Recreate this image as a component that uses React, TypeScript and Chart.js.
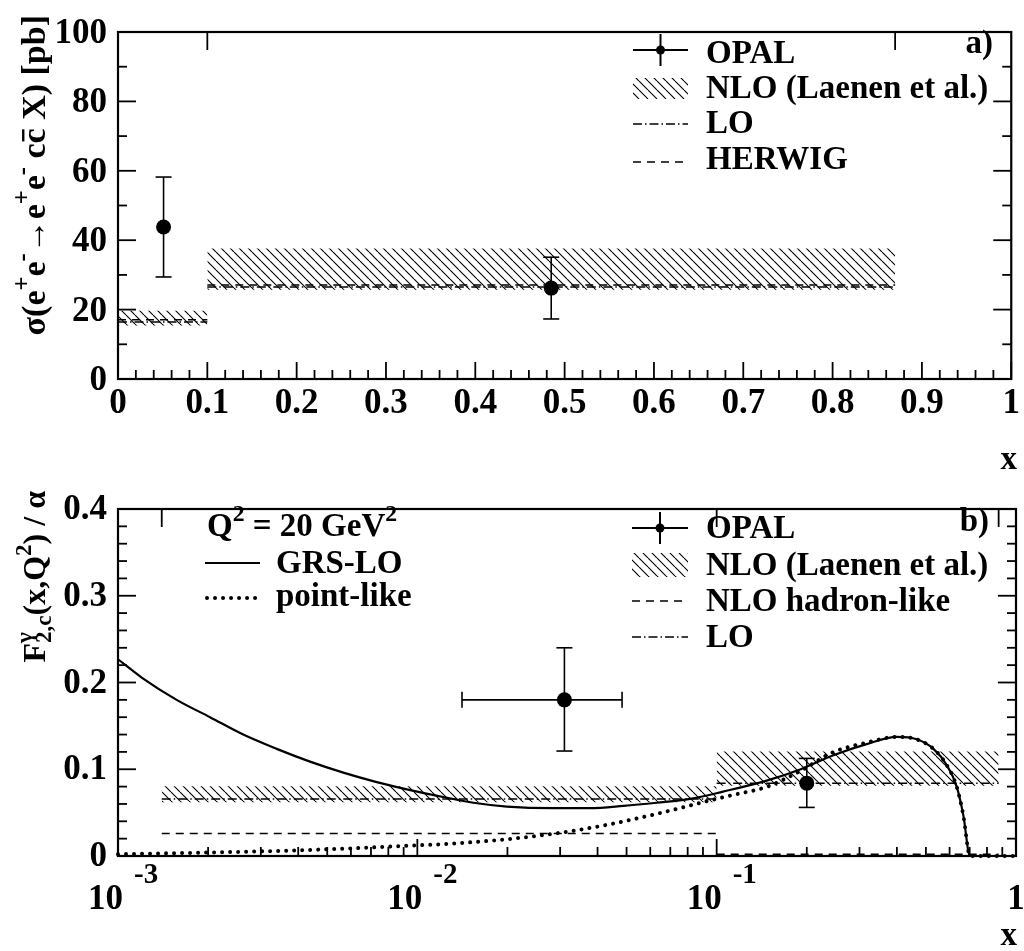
import React, { useEffect, useRef } from 'react';
import { Chart, registerables } from 'chart.js';

Chart.register(...registerables);

const FONT = "'Liberation Serif', 'Times New Roman', Times, serif";
const TICK_SIZE = 35;
const TEXT_SIZE = 33;

// ---------------- Panel a) : cross-section vs x ----------------
const A_BIN_LOW = [0.0, 0.1];
const A_BIN_HIGH = [0.1, 0.87];
const A_NLO_MIN = [15.4, 25.7];
const A_NLO_MAX = [19.7, 37.6];
const A_LO = [16.4, 26.5];
const A_HERWIG = [17.1, 27.1];
const A_OPAL_X = [0.051, 0.485];
const A_OPAL_Y = [43.8, 26.2];
const A_OPAL_YLOW = [29.4, 17.3];
const A_OPAL_YHIGH = [58.2, 35.1];
const A_X_TICKS = [0, 0.1, 0.2, 0.3, 0.4, 0.5, 0.6, 0.7, 0.8, 0.9, 1];
const A_X_LABELS = ['0', '0.1', '0.2', '0.3', '0.4', '0.5', '0.6', '0.7', '0.8', '0.9', '1'];
const A_Y_TICKS = [0, 20, 40, 60, 80, 100];
const A_Y_LABELS = ['0', '20', '40', '60', '80', '100'];
const A_Y_MINOR = [10, 30, 50, 70, 90];
const A_TOP_EDGES = [0.1, 0.87];

// ---------------- Panel b) : F2,c / alpha vs x (log) ----------------
const B_BIN_LOW = [0.0014, 0.1];
const B_BIN_HIGH = [0.1, 0.875];
const B_NLO_MIN = [0.062, 0.081];
const B_NLO_MAX = [0.0803, 0.1205];
const B_LO = [0.0658, 0.084];
const B_HADRON = [0.026, 0.002];
const B_OPAL_X = [0.031, 0.2];
const B_OPAL_Y = [0.18, 0.084];
const B_OPAL_YLOW = [0.121, 0.056];
const B_OPAL_YHIGH = [0.24, 0.1125];
const B_OPAL_XLOW = [0.0141, null];
const B_OPAL_XHIGH = [0.0483, null];
const B_GRS_X = [0.001, 0.0012, 0.00157, 0.00203, 0.00262, 0.00339, 0.00438, 0.00566, 0.00732, 0.00946,
  0.0122, 0.0154, 0.0199, 0.0285, 0.0377, 0.0488, 0.0631, 0.0815, 0.105, 0.147, 0.19, 0.2455, 0.317,
  0.4, 0.466, 0.53, 0.586, 0.634, 0.667, 0.702, 1.0];
const B_GRS_Y = [0.2268, 0.2057, 0.18, 0.16, 0.14, 0.1235, 0.1088, 0.0961, 0.0852, 0.076,
  0.068, 0.0614, 0.057, 0.0551, 0.0551, 0.0577, 0.0614, 0.0658, 0.0742, 0.0869, 0.0997, 0.1162, 0.129,
  0.1373, 0.1345, 0.1235, 0.1052, 0.0797, 0.0468, 0.0, 0.0];
const B_PL_X = [0.001, 0.002, 0.00339, 0.006, 0.00946, 0.0122, 0.0199, 0.0299, 0.0428, 0.0631, 0.0928,
  0.1137, 0.147, 0.19, 0.2455, 0.317, 0.4, 0.466, 0.53, 0.586, 0.634, 0.667, 0.702, 1.0];
const B_PL_Y = [0.002, 0.004, 0.0058, 0.0088, 0.012, 0.0137, 0.0193, 0.0267, 0.0358, 0.0486, 0.0632,
  0.0705, 0.0797, 0.0979, 0.1198, 0.1307, 0.1373, 0.1345, 0.1235, 0.1052, 0.0797, 0.0468, 0.0, 0.0];
const B_X_DECADES = [0.001, 0.01, 0.1];
const B_X_EXPONENTS = ['-3', '-2', '-1'];
const B_X_LAST = [1];
const B_X_LAST_LABEL = ['1'];
const B_Y_TICKS = [0, 0.1, 0.2, 0.3, 0.4];
const B_Y_LABELS = ['0', '0.1', '0.2', '0.3', '0.4'];
const B_TOP_EDGES = [0.0014, 0.1, 0.875];

// ---------------- helpers ----------------
type Pt = { x: number; y: number | null };
const pairs = (xs: number[], ys: number[]): Pt[] => xs.map((x, i) => ({ x, y: ys[i] }));
const binPts = (lo: number[], hi: number[], v: number[], i: number): Pt[] => [
  { x: lo[i], y: v[i] },
  { x: hi[i], y: v[i] },
];
const steps = (lo: number[], hi: number[], v: number[]): Pt[] => {
  const out: Pt[] = [];
  lo.forEach((l, i) => {
    if (i > 0) out.push({ x: l, y: null });
    out.push({ x: l, y: v[i] }, { x: hi[i], y: v[i] });
  });
  return out;
};

const f = (size: number) => `bold ${size}px ${FONT}`;

function makeHatch(): any {
  const s = 9;
  const c = document.createElement('canvas');
  c.width = s;
  c.height = s;
  const g = c.getContext('2d');
  if (!g) return 'rgba(0,0,0,0.3)';
  g.strokeStyle = '#000';
  g.lineWidth = 1.1;
  g.beginPath();
  for (let k = -1; k <= 1; k++) {
    g.moveTo(k * s, 0);
    g.lineTo(k * s + s, s);
  }
  g.stroke();
  return g.createPattern(c, 'repeat');
}

function seg(ctx: CanvasRenderingContext2D, x1: number, y1: number, x2: number, y2: number) {
  ctx.beginPath();
  ctx.moveTo(x1, y1);
  ctx.lineTo(x2, y2);
  ctx.stroke();
}

type Seg = { t?: string; sup?: boolean; sub?: boolean; bar?: boolean; sup2?: string; sub2?: string };

function drawRich(ctx: CanvasRenderingContext2D, segs: Seg[], x: number, y: number, size: number, align: string) {
  const small = size * 0.72;
  const widths = segs.map((s) => {
    if (s.sup2 !== undefined) {
      ctx.font = f(small);
      return Math.max(ctx.measureText(s.sup2).width, ctx.measureText(s.sub2 || '').width);
    }
    ctx.font = f(s.sup || s.sub ? small : size);
    return ctx.measureText(s.t || '').width;
  });
  const total = widths.reduce((a, b) => a + b, 0);
  let cx = align === 'right' ? x - total : align === 'center' ? x - total / 2 : x;
  ctx.textAlign = 'left';
  ctx.textBaseline = 'alphabetic';
  ctx.fillStyle = '#000';
  ctx.strokeStyle = '#000';
  segs.forEach((s, i) => {
    if (s.sup2 !== undefined) {
      ctx.font = f(small);
      ctx.fillText(s.sup2, cx, y - size * 0.42);
      ctx.fillText(s.sub2 || '', cx, y + size * 0.2);
    } else {
      ctx.font = f(s.sup || s.sub ? small : size);
      const dy = s.sup ? -size * 0.44 : s.sub ? size * 0.2 : 0;
      ctx.fillText(s.t || '', cx, y + dy);
      if (s.bar) {
        ctx.lineWidth = size * 0.07;
        seg(ctx, cx + 2, y - size * 0.64, cx + widths[i] - 1, y - size * 0.64);
      }
    }
    cx += widths[i];
  });
}

function drawErrors(chart: any, xs: number[], ys: number[], yl: number[], yh: number[], xl?: (number | null)[], xh?: (number | null)[]) {
  const { ctx, scales } = chart;
  const sx = scales.x;
  const sy = scales.y;
  ctx.save();
  ctx.strokeStyle = '#000';
  ctx.lineWidth = 1.6;
  xs.forEach((v, i) => {
    const px = sx.getPixelForValue(v);
    const py = sy.getPixelForValue(ys[i]);
    const pl = sy.getPixelForValue(yl[i]);
    const ph = sy.getPixelForValue(yh[i]);
    seg(ctx, px, pl, px, ph);
    seg(ctx, px - 8, pl, px + 8, pl);
    seg(ctx, px - 8, ph, px + 8, ph);
    if (xl && xh && xl[i] != null && xh[i] != null) {
      const a = sx.getPixelForValue(xl[i]);
      const b = sx.getPixelForValue(xh[i]);
      seg(ctx, a, py, b, py);
      seg(ctx, a, py - 8, a, py + 8);
      seg(ctx, b, py - 8, b, py + 8);
    }
  });
  ctx.restore();
}

type TickCfg = { xMajor: number[]; xMinor: number[]; yMajor: number[]; yMinor: number[]; topEdges: number[] };

function drawFrame(chart: any, t: TickCfg) {
  const { ctx, chartArea: ca, scales } = chart;
  ctx.save();
  ctx.strokeStyle = '#000';
  ctx.lineWidth = 1.8;
  t.xMajor.forEach((v) => {
    const p = scales.x.getPixelForValue(v);
    seg(ctx, p, ca.bottom, p, ca.bottom - 17);
  });
  t.xMinor.forEach((v) => {
    const p = scales.x.getPixelForValue(v);
    seg(ctx, p, ca.bottom, p, ca.bottom - 9);
  });
  t.yMajor.forEach((v) => {
    const p = scales.y.getPixelForValue(v);
    seg(ctx, ca.left, p, ca.left + 18, p);
    seg(ctx, ca.right, p, ca.right - 18, p);
  });
  t.yMinor.forEach((v) => {
    const p = scales.y.getPixelForValue(v);
    seg(ctx, ca.left, p, ca.left + 9, p);
    seg(ctx, ca.right, p, ca.right - 9, p);
  });
  t.topEdges.forEach((v) => {
    const p = scales.x.getPixelForValue(v);
    seg(ctx, p, ca.top, p, ca.top + 18);
  });
  ctx.lineWidth = 2.2;
  ctx.strokeRect(ca.left, ca.top, ca.right - ca.left, ca.bottom - ca.top);
  ctx.restore();
}

function legendOpal(ctx: CanvasRenderingContext2D, x1: number, x2: number, y: number) {
  ctx.lineWidth = 2;
  ctx.setLineDash([]);
  const xm = (x1 + x2) / 2;
  seg(ctx, x1, y, x2, y);
  seg(ctx, xm, y - 16, xm, y + 16);
  ctx.beginPath();
  ctx.arc(xm, y, 4.5, 0, Math.PI * 2);
  ctx.fill();
}

function legendLine(ctx: CanvasRenderingContext2D, x1: number, x2: number, y: number, dash: number[], w: number, cap: CanvasLineCap) {
  ctx.save();
  ctx.lineWidth = w;
  ctx.lineCap = cap;
  ctx.setLineDash(dash);
  seg(ctx, x1, y, x2, y);
  ctx.restore();
}

const LO_DASH = [9, 3, 1.5, 3];
const HERWIG_DASH = [8, 6];
const DOT_DASH = [0.01, 8];

const baseScaleY = (min: number, max: number, ticks: number[], labels: string[], offset: number) => ({
  type: 'linear',
  position: 'left',
  min,
  max,
  grid: { display: false, drawTicks: false },
  border: { display: false },
  afterBuildTicks: (s: any) => {
    s.ticks = ticks.map((v) => ({ value: v }));
  },
  afterFit: (s: any) => {
    s.width = 118;
  },
  ticks: {
    callback: (_v: any, i: number) => labels[i],
    font: { family: FONT, size: TICK_SIZE, weight: 'bold' },
    color: '#000',
    padding: 11,
    labelOffset: offset,
    autoSkip: false,
  },
});

function configA(hatch: any) {
  const minor: number[] = [];
  for (let k = 1; k < 50; k++) if (k % 5 !== 0) minor.push(k / 50);
  const ticksCfg: TickCfg = { xMajor: A_X_TICKS, xMinor: minor, yMajor: A_Y_TICKS, yMinor: A_Y_MINOR, topEdges: A_TOP_EDGES };
  const plugin = {
    id: 'panelA',
    afterDatasetsDraw(chart: any) {
      drawErrors(chart, A_OPAL_X, A_OPAL_Y, A_OPAL_YLOW, A_OPAL_YHIGH);
      drawFrame(chart, ticksCfg);
    },
    afterDraw(chart: any) {
      const ctx: CanvasRenderingContext2D = chart.ctx;
      ctx.save();
      ctx.fillStyle = '#000';
      ctx.strokeStyle = '#000';
      // y title (rotated)
      ctx.save();
      ctx.translate(45, 15);
      ctx.rotate(-Math.PI / 2);
      drawRich(ctx, [
        { t: 'σ(e' }, { t: '+', sup: true }, { t: 'e' }, { t: '-', sup: true }, { t: '→e' }, { t: '+', sup: true },
        { t: 'e' }, { t: '-', sup: true }, { t: ' c' }, { t: 'c', bar: true }, { t: ' X) [pb]' },
      ], 0, 0, 34, 'right');
      ctx.restore();
      // x title
      ctx.font = f(TEXT_SIZE);
      ctx.textAlign = 'right';
      ctx.textBaseline = 'alphabetic';
      ctx.fillText('x', 1017, 469);
      ctx.fillText('a)', 993, 53);
      // legend
      const x1 = 633, x2 = 688, tx = 706;
      legendOpal(ctx, x1, x2, 50);
      ctx.fillStyle = hatch;
      ctx.fillRect(x1, 78, x2 - x1, 21);
      ctx.fillStyle = '#000';
      legendLine(ctx, x1, x2, 124, LO_DASH, 1.5, 'butt');
      legendLine(ctx, x1, x2, 162, HERWIG_DASH, 1.5, 'butt');
      ctx.font = f(TEXT_SIZE);
      ctx.textAlign = 'left';
      ctx.fillText('OPAL', tx, 63);
      ctx.fillText('NLO (Laenen et al.)', tx, 98);
      ctx.fillText('LO', tx, 133);
      ctx.fillText('HERWIG', tx, 169);
      ctx.restore();
    },
  };
  return {
    type: 'scatter',
    data: {
      datasets: [
        { label: 'OPAL', data: pairs(A_OPAL_X, A_OPAL_Y), pointRadius: 7.5, pointBackgroundColor: '#000', pointBorderWidth: 0, showLine: false },
        { label: 'NLO min 1', data: binPts(A_BIN_LOW, A_BIN_HIGH, A_NLO_MIN, 0), showLine: true, borderWidth: 0, borderColor: 'rgba(0,0,0,0)', pointRadius: 0 },
        { label: 'NLO (Laenen et al.)', data: binPts(A_BIN_LOW, A_BIN_HIGH, A_NLO_MAX, 0), showLine: true, borderWidth: 0, borderColor: 'rgba(0,0,0,0)', pointRadius: 0, fill: 1, backgroundColor: hatch },
        { label: 'NLO min 2', data: binPts(A_BIN_LOW, A_BIN_HIGH, A_NLO_MIN, 1), showLine: true, borderWidth: 0, borderColor: 'rgba(0,0,0,0)', pointRadius: 0 },
        { label: 'NLO max 2', data: binPts(A_BIN_LOW, A_BIN_HIGH, A_NLO_MAX, 1), showLine: true, borderWidth: 0, borderColor: 'rgba(0,0,0,0)', pointRadius: 0, fill: 3, backgroundColor: hatch },
        { label: 'LO', data: steps(A_BIN_LOW, A_BIN_HIGH, A_LO), showLine: true, borderColor: '#000', borderWidth: 1.5, borderDash: LO_DASH, pointRadius: 0, spanGaps: false },
        { label: 'HERWIG', data: steps(A_BIN_LOW, A_BIN_HIGH, A_HERWIG), showLine: true, borderColor: '#000', borderWidth: 1.5, borderDash: HERWIG_DASH, pointRadius: 0, spanGaps: false },
      ],
    },
    options: {
      responsive: false,
      animation: false,
      events: [],
      layout: { padding: { left: 0, right: 8, top: 14, bottom: 0 } },
      plugins: { legend: { display: false }, tooltip: { enabled: false } },
      scales: {
        x: {
          type: 'linear',
          position: 'bottom',
          min: 0,
          max: 1,
          grid: { display: false, drawTicks: false },
          border: { display: false },
          afterBuildTicks: (s: any) => {
            s.ticks = A_X_TICKS.map((v) => ({ value: v }));
          },
          afterFit: (s: any) => {
            s.height = 98;
          },
          ticks: {
            callback: (_v: any, i: number) => A_X_LABELS[i],
            font: { family: FONT, size: TICK_SIZE, weight: 'bold' },
            color: '#000',
            padding: 4,
            maxRotation: 0,
            autoSkip: false,
          },
        },
        y: baseScaleY(0, 100, A_Y_TICKS, A_Y_LABELS, 2),
      },
    },
    plugins: [plugin],
  };
}

function configB(hatch: any) {
  const xMinor: number[] = [];
  B_X_DECADES.forEach((d) => {
    for (let m = 2; m <= 9; m++) xMinor.push(d * m);
  });
  const yMinor: number[] = [];
  for (let k = 1; k < 20; k++) if (k % 5 !== 0) yMinor.push(k * 0.02);
  const ticksCfg: TickCfg = { xMajor: [...B_X_DECADES, ...B_X_LAST], xMinor, yMajor: B_Y_TICKS, yMinor, topEdges: B_TOP_EDGES };
  const plugin = {
    id: 'panelB',
    afterDatasetsDraw(chart: any) {
      drawErrors(chart, B_OPAL_X, B_OPAL_Y, B_OPAL_YLOW, B_OPAL_YHIGH, B_OPAL_XLOW, B_OPAL_XHIGH);
      drawFrame(chart, ticksCfg);
    },
    afterDraw(chart: any) {
      const ctx: CanvasRenderingContext2D = chart.ctx;
      const sx = chart.scales.x;
      ctx.save();
      ctx.fillStyle = '#000';
      ctx.strokeStyle = '#000';
      // log x tick labels
      ctx.textBaseline = 'alphabetic';
      B_X_DECADES.forEach((d, i) => {
        const p = sx.getPixelForValue(d);
        ctx.font = f(TICK_SIZE);
        ctx.textAlign = 'right';
        ctx.fillText('10', p + 5, 432);
        ctx.font = f(29);
        ctx.textAlign = 'left';
        ctx.fillText(B_X_EXPONENTS[i], p + 16, 406);
      });
      B_X_LAST.forEach((d, i) => {
        const p = sx.getPixelForValue(d);
        ctx.font = f(TICK_SIZE);
        ctx.textAlign = 'center';
        ctx.fillText(B_X_LAST_LABEL[i], p, 432);
      });
      // y title
      ctx.save();
      ctx.translate(45, 14);
      ctx.rotate(-Math.PI / 2);
      drawRich(ctx, [
        { t: 'F' }, { sup2: 'γ', sub2: '2,c' }, { t: '(x,Q' }, { t: '2', sup: true }, { t: ') / α' },
      ], 0, 0, 32, 'right');
      ctx.restore();
      // x title and panel tag
      ctx.font = f(TEXT_SIZE);
      ctx.textAlign = 'right';
      ctx.fillText('x', 1017, 468);
      ctx.fillText('b)', 989, 54);
      // left legend
      drawRich(ctx, [{ t: 'Q' }, { t: '2', sup: true }, { t: ' = 20 GeV' }, { t: '2', sup: true }], 207, 59, TEXT_SIZE, 'left');
      legendLine(ctx, 205, 260, 86, [], 2.2, 'butt');
      legendLine(ctx, 207, 260, 121, DOT_DASH, 4, 'round');
      ctx.font = f(TEXT_SIZE);
      ctx.textAlign = 'left';
      ctx.fillText('GRS-LO', 276, 96);
      ctx.fillText('point-like', 276, 129);
      // right legend
      const x1 = 632, x2 = 688, tx = 706;
      legendOpal(ctx, x1, x2, 51);
      ctx.fillStyle = hatch;
      ctx.fillRect(x1, 76, x2 - x1, 24);
      ctx.fillStyle = '#000';
      legendLine(ctx, x1, x2, 124, HERWIG_DASH, 1.5, 'butt');
      legendLine(ctx, x1, x2, 160, LO_DASH, 1.5, 'butt');
      ctx.font = f(TEXT_SIZE);
      ctx.textAlign = 'left';
      ctx.fillText('OPAL', tx, 61);
      ctx.fillText('NLO (Laenen et al.)', tx, 98);
      ctx.fillText('NLO hadron-like', tx, 134);
      ctx.fillText('LO', tx, 170);
      ctx.restore();
    },
  };
  return {
    type: 'scatter',
    data: {
      datasets: [
        { label: 'OPAL', data: pairs(B_OPAL_X, B_OPAL_Y), pointRadius: 7.5, pointBackgroundColor: '#000', pointBorderWidth: 0, showLine: false },
        { label: 'point-like', data: pairs(B_PL_X, B_PL_Y), showLine: true, borderColor: '#000', borderWidth: 4, borderDash: DOT_DASH, borderCapStyle: 'round', pointRadius: 0, cubicInterpolationMode: 'monotone', clip: 4 },
        { label: 'GRS-LO', data: pairs(B_GRS_X, B_GRS_Y), showLine: true, borderColor: '#000', borderWidth: 2.2, pointRadius: 0, cubicInterpolationMode: 'monotone', clip: 4 },
        { label: 'NLO min 1', data: binPts(B_BIN_LOW, B_BIN_HIGH, B_NLO_MIN, 0), showLine: true, borderWidth: 0, borderColor: 'rgba(0,0,0,0)', pointRadius: 0 },
        { label: 'NLO (Laenen et al.)', data: binPts(B_BIN_LOW, B_BIN_HIGH, B_NLO_MAX, 0), showLine: true, borderWidth: 0, borderColor: 'rgba(0,0,0,0)', pointRadius: 0, fill: 3, backgroundColor: hatch },
        { label: 'NLO min 2', data: binPts(B_BIN_LOW, B_BIN_HIGH, B_NLO_MIN, 1), showLine: true, borderWidth: 0, borderColor: 'rgba(0,0,0,0)', pointRadius: 0 },
        { label: 'NLO max 2', data: binPts(B_BIN_LOW, B_BIN_HIGH, B_NLO_MAX, 1), showLine: true, borderWidth: 0, borderColor: 'rgba(0,0,0,0)', pointRadius: 0, fill: 5, backgroundColor: hatch },
        { label: 'LO', data: steps(B_BIN_LOW, B_BIN_HIGH, B_LO), showLine: true, borderColor: '#000', borderWidth: 1.5, borderDash: LO_DASH, pointRadius: 0, spanGaps: false },
        { label: 'NLO hadron-like', data: steps(B_BIN_LOW, B_BIN_HIGH, B_HADRON), showLine: true, borderColor: '#000', borderWidth: 1.5, borderDash: HERWIG_DASH, pointRadius: 0, spanGaps: false, clip: 4 },
      ],
    },
    options: {
      responsive: false,
      animation: false,
      events: [],
      layout: { padding: { left: 0, right: 8, top: 14, bottom: 95 } },
      plugins: { legend: { display: false }, tooltip: { enabled: false } },
      scales: {
        x: {
          type: 'logarithmic',
          position: 'bottom',
          min: 0.001,
          max: 1,
          display: false,
        },
        y: baseScaleY(0, 0.4, B_Y_TICKS, B_Y_LABELS, 1),
      },
    },
    plugins: [plugin],
  };
}

export default function App() {
  const refA = useRef<HTMLCanvasElement>(null);
  const refB = useRef<HTMLCanvasElement>(null);
  useEffect(() => {
    const hatch = makeHatch();
    const ca = new Chart(refA.current as HTMLCanvasElement, configA(hatch) as any);
    const cb = new Chart(refB.current as HTMLCanvasElement, configB(hatch) as any);
    return () => {
      ca.destroy();
      cb.destroy();
    };
  }, []);
  return (
    <div style={{ position: 'absolute', left: 0, top: 0, width: 1024, height: 951, background: '#fff' }}>
      <canvas ref={refA} width={1024} height={477} style={{ position: 'absolute', left: 0, top: 0, width: 1024, height: 477 }} />
      <canvas ref={refB} width={1024} height={474} style={{ position: 'absolute', left: 0, top: 477, width: 1024, height: 474 }} />
    </div>
  );
}
